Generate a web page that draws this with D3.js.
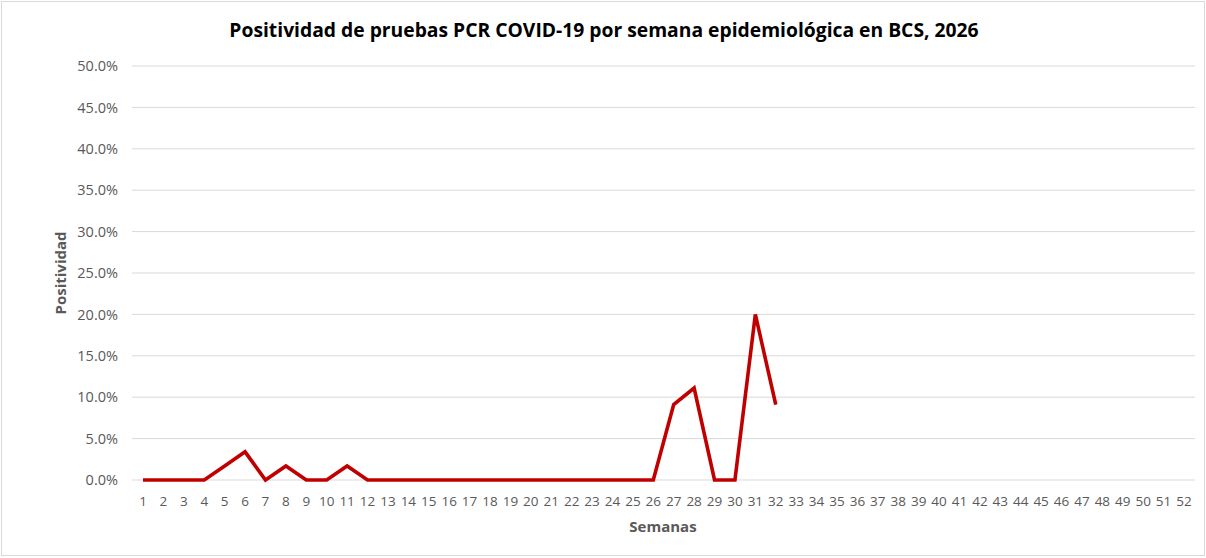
<!DOCTYPE html>
<html><head><meta charset="utf-8">
<script src="https://cdn.jsdelivr.net/npm/d3@7"></script>
<style>body{margin:0;background:#fff;} svg{display:block;}</style>
</head><body>
<svg id="c" width="1206" height="558"></svg>
<script>
const weeks = d3.range(1, 53).map(String);
const positividad = [0,0,0,0,0.017,0.034,0,0.017,0,0,0.017,0,0,0,0,0,0,0,0,0,0,0,0,0,0,0,0.091,0.111,0,0,0.20,0.091];
const yTicks = [0,0.05,0.10,0.15,0.20,0.25,0.30,0.35,0.40,0.45,0.50];
const title = "Positividad de pruebas PCR COVID-19 por semana epidemiológica en BCS, 2026";
const yTitle = "Positividad";
const xTitle = "Semanas";

const svg = d3.select("#c");
const font = "'Open Sans', sans-serif";
svg.append("rect").attr("x",1.5).attr("y",1.5).attr("width",1203).attr("height",554)
  .attr("fill","#fff").attr("stroke","#d9d9d9").attr("stroke-width",1);

const x = d3.scaleBand().domain(weeks).range([132.8,1194.2]);
const y = d3.scaleLinear().domain([0,0.5]).range([480,66]);

svg.append("g").selectAll("line").data(yTicks).join("line")
  .attr("x1",132).attr("x2",1195).attr("y1",d=>y(d)).attr("y2",d=>y(d))
  .attr("stroke","#d9d9d9").attr("stroke-width",1);

const yAxis = svg.append("g").attr("transform","translate(132,0)")
  .call(d3.axisLeft(y).tickValues(yTicks).tickFormat(d3.format(".1%")).tickSize(0).tickPadding(14));
yAxis.select(".domain").remove();
yAxis.selectAll("text").attr("fill","#595959").style("font-family",font).style("font-size","14.5px");

const xAxis = svg.append("g").attr("transform","translate(0,480)")
  .call(d3.axisBottom(x).tickSize(0).tickPadding(16));
xAxis.select(".domain").remove();
xAxis.selectAll("text").attr("fill","#595959").style("font-family",font).style("font-size","13.5px");

const line = d3.line().x((d,i)=>x(weeks[i])+x.bandwidth()/2).y(d=>y(d));
svg.append("path").datum(positividad).attr("d",line).attr("fill","none")
  .attr("stroke","#c00000").attr("stroke-width",3.6).attr("stroke-linejoin","miter");

svg.append("text").attr("x",604).attr("y",37).attr("text-anchor","middle")
  .style("font-family",font).style("font-weight","bold").style("font-size","19.3px").attr("fill","#000").text(title);
svg.append("text").attr("transform","translate(66,273) rotate(-90)").attr("text-anchor","middle")
  .style("font-family",font).style("font-weight","bold").style("font-size","15px").attr("fill","#595959").text(yTitle);
svg.append("text").attr("x",663).attr("y",532).attr("text-anchor","middle")
  .style("font-family",font).style("font-weight","bold").style("font-size","15px").attr("fill","#595959").text(xTitle);
</script>
</body></html>
